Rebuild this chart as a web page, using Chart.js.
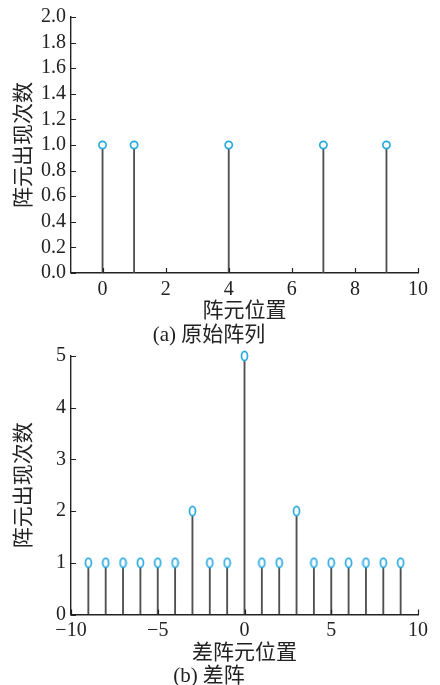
<!DOCTYPE html>
<html>
<head>
<meta charset="utf-8">
<script src="https://cdn.jsdelivr.net/npm/chart.js@4.4.0/dist/chart.umd.min.js"></script>
<style>
    body { margin: 0; background: #fff; width: 440px; height: 685px; position: relative; overflow: hidden; }
    .box { position: absolute; left: 0; width: 440px; }
</style>
</head>
<body>
<div class="box" style="top:0;height:350px"><canvas id="chartA"></canvas></div>
<div class="box" style="top:336px;height:349px"><canvas id="chartB"></canvas></div>
<script>
// (a) original array
const origPos = [0, 1, 4, 7, 9];
const origCount = [1, 1, 1, 1, 1];
const origXTicks = [0, 2, 4, 6, 8, 10];
const origYTicks = [0, 0.2, 0.4, 0.6, 0.8, 1.0, 1.2, 1.4, 1.6, 1.8, 2.0];

// (b) difference array
const diffPos = [-9, -8, -7, -6, -5, -4, -3, -2, -1, 0, 1, 2, 3, 4, 5, 6, 7, 8, 9];
const diffCount = [1, 1, 1, 1, 1, 1, 2, 1, 1, 5, 1, 1, 2, 1, 1, 1, 1, 1, 1];
const diffXTicks = [-10, -5, 0, 5, 10];
const diffYTicks = [0, 1, 2, 3, 4, 5];

const stemColor = "#505050";
const markColor = "#27a9e1";
const axisColor = "#222";

Chart.defaults.font.family = '"Liberation Serif", "Noto Sans CJK SC", serif';
Chart.defaults.font.size = 21;
Chart.defaults.color = axisColor;

// inward tick marks on both axes
const inTicks = {
    id: "inTicks",
    afterDraw(chart) {
        const { ctx, chartArea: a, scales: { x, y } } = chart;
        ctx.save();
        ctx.strokeStyle = axisColor;
        ctx.lineWidth = 1.2;
        ctx.beginPath();
        x.ticks.forEach((t) => {
            const px = Math.round(x.getPixelForValue(t.value)) + 0.5;
            ctx.moveTo(px, a.bottom);
            ctx.lineTo(px, a.bottom - 5);
        });
        y.ticks.forEach((t) => {
            const py = Math.round(y.getPixelForValue(t.value)) + 0.5;
            ctx.moveTo(a.left, py);
            ctx.lineTo(a.left + 5, py);
        });
        ctx.stroke();
        ctx.restore();
    },
};

// elliptical marker for the lower plot
const ellipse = document.createElement("canvas");
ellipse.width = 9;
ellipse.height = 12;
const ec = ellipse.getContext("2d");
ec.strokeStyle = markColor;
ec.lineWidth = 1.7;
ec.fillStyle = "#fff";
ec.beginPath();
ec.ellipse(4.5, 6, 3, 4.6, 0, 0, Math.PI * 2);
ec.fill();
ec.stroke();

const minus = (v) => (v < 0 ? "\u2212" + Math.abs(v) : String(v));

function stemChart(id, pos, counts, opt) {
    const pts = pos.map((p, i) => ({ x: p, y: counts[i] }));
    return new Chart(document.getElementById(id), {
        type: "bar",
        data: {
            datasets: [
                {
                    type: "scatter",
                    data: pts,
                    pointStyle: opt.marker,
                    pointRadius: 3.6,
                    borderColor: markColor,
                    backgroundColor: "#fff",
                    borderWidth: 1.7,
                    clip: false,
                },
                {
                    data: pts,
                    backgroundColor: stemColor,
                    barThickness: 1.2,
                },
            ],
        },
        options: {
            responsive: true,
            maintainAspectRatio: false,
            animation: false,
            events: [],
            layout: { padding: opt.pad },
            plugins: {
                legend: { display: false },
                tooltip: { enabled: false },
                title: {
                    display: true,
                    position: "bottom",
                    text: opt.caption,
                    color: axisColor,
                    font: { size: 21, weight: "normal", lineHeight: opt.capLH },
                    padding: 0,
                },
            },
            scales: {
                x: {
                    type: "linear",
                    min: opt.xMin,
                    max: opt.xMax,
                    offset: false,
                    afterBuildTicks: (s) => { s.ticks = opt.xTicks.map((v) => ({ value: v })); },
                    grid: { drawOnChartArea: false, drawTicks: false },
                    border: { color: axisColor, width: 1.4 },
                    ticks: { padding: 6.5, autoSkip: false, maxRotation: 0, font: { size: 20, lineHeight: 1.0 }, callback: minus },
                    title: { display: true, text: opt.xTitle, padding: opt.xTitlePad, font: { lineHeight: opt.xTitleLH } },
                },
                y: {
                    min: 0,
                    max: opt.yMax,
                    afterBuildTicks: (s) => { s.ticks = opt.yTicks.map((v) => ({ value: v })); },
                    afterFit: (s) => { s.width = 71; },
                    grid: { drawOnChartArea: false, drawTicks: false },
                    border: { color: axisColor, width: 1.4 },
                    ticks: { padding: 5, autoSkip: false, font: { size: 20 }, callback: opt.yFmt },
                    title: { display: true, text: "阵元出现次数", padding: { top: 13, bottom: 4 }, font: { lineHeight: 1.1 } },
                },
            },
        },
        plugins: [inTicks],
    });
}

stemChart("chartA", origPos, origCount, {
    xMin: -1, xMax: 10, xTicks: origXTicks,
    yMax: 2, yTicks: origYTicks, yFmt: (v) => v.toFixed(1),
    xTitle: "阵元位置", caption: "(a) 原始阵列", marker: "circle",
    pad: { top: 15, right: 22, left: 0, bottom: 0 },
    capLH: 1.43, xTitleLH: 0.571, xTitlePad: { top: 0, bottom: 2 },
});

stemChart("chartB", diffPos, diffCount, {
    xMin: -10, xMax: 10, xTicks: diffXTicks,
    yMax: 5, yTicks: diffYTicks, yFmt: (v) => String(v),
    xTitle: "差阵元位置", caption: "(b) 差阵", marker: ellipse,
    pad: { top: 20, right: 22, left: 0, bottom: 0 },
    capLH: 0.79, xTitleLH: 0.543, xTitlePad: { top: 0, bottom: 9.5 },
});
</script>
</body>
</html>
